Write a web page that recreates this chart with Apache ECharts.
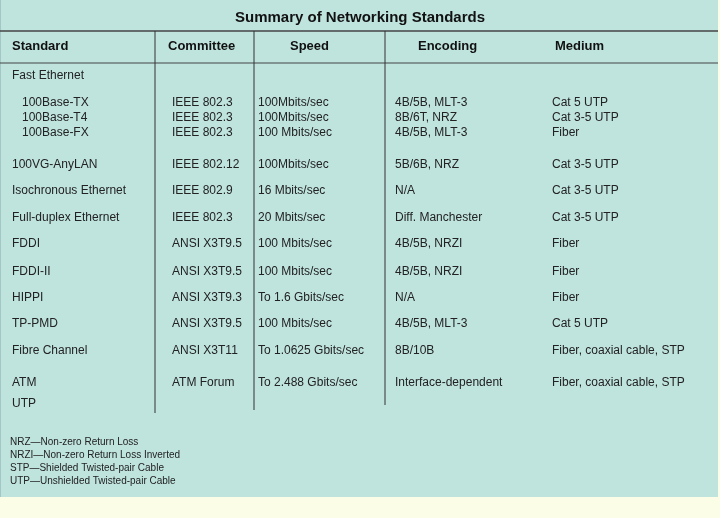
<!DOCTYPE html>
<html><head><meta charset="utf-8">
<script src="https://cdn.jsdelivr.net/npm/echarts@6/dist/echarts.min.js"></script>
<style>html,body{margin:0;padding:0;background:#fbfde6}#c{width:720px;height:518px}</style>
</head><body><div id="c"></div>
<script>
const title = "Summary of Networking Standards";
const headers = ["Standard","Committee","Speed","Encoding","Medium"];
const standards = ["Fast Ethernet","   100Base-TX","   100Base-T4","   100Base-FX","100VG-AnyLAN","Isochronous Ethernet","Full-duplex Ethernet","FDDI","FDDI-II","HIPPI","TP-PMD","Fibre Channel","ATM","UTP"];
const committees = ["","IEEE 802.3","IEEE 802.3","IEEE 802.3","IEEE 802.12","IEEE 802.9","IEEE 802.3","ANSI X3T9.5","ANSI X3T9.5","ANSI X3T9.3","ANSI X3T9.5","ANSI X3T11","ATM Forum",""];
const speeds = ["","100Mbits/sec","100Mbits/sec","100 Mbits/sec","100Mbits/sec","16 Mbits/sec","20 Mbits/sec","100 Mbits/sec","100 Mbits/sec","To 1.6 Gbits/sec","100 Mbits/sec","To 1.0625 Gbits/sec","To 2.488 Gbits/sec",""];
const encodings = ["","4B/5B, MLT-3","8B/6T, NRZ","4B/5B, MLT-3","5B/6B, NRZ","N/A","Diff. Manchester","4B/5B, NRZI","4B/5B, NRZI","N/A","4B/5B, MLT-3","8B/10B","Interface-dependent",""];
const media = ["","Cat 5 UTP","Cat 3-5 UTP","Fiber","Cat 3-5 UTP","Cat 3-5 UTP","Cat 3-5 UTP","Fiber","Fiber","Fiber","Cat 5 UTP","Fiber, coaxial cable, STP","Fiber, coaxial cable, STP",""];
const rowY = [76,103,118,133,165,191,218,244,272,298,324,351,383,404];
const footnotes = ["NRZ\u2014Non-zero Return Loss","NRZI\u2014Non-zero Return Loss Inverted","STP\u2014Shielded Twisted-pair Cable","UTP\u2014Unshielded Twisted-pair Cable"];

const font = '"Liberation Sans Narrow","Liberation Sans",sans-serif';
const colX = [12,172,258,395,552];
const headX = [12,168,290,418,555];
const cols = [standards,committees,speeds,encodings,media];
const els = [];
els.push({type:'rect',shape:{x:0,y:0,width:718,height:497},style:{fill:'#bfe4de'}});
els.push({type:'line',shape:{x1:0,y1:0,x2:0,y2:497},style:{stroke:'#8aa',lineWidth:1}});
els.push({type:'text',x:360,y:18,style:{text:title,font:'bold 15px '+font,fill:'#111',align:'center',verticalAlign:'middle'}});
els.push({type:'line',shape:{x1:0,y1:31,x2:718,y2:31},style:{stroke:'#444',lineWidth:1.5}});
els.push({type:'line',shape:{x1:0,y1:63,x2:718,y2:63},style:{stroke:'#444',lineWidth:1}});
[[155,413],[254,410],[385,405]].forEach(v=>els.push({type:'line',shape:{x1:v[0],y1:31,x2:v[0],y2:v[1]},style:{stroke:'#333',lineWidth:1}}));
headers.forEach((h,i)=>els.push({type:'text',x:headX[i],y:46,style:{text:h,font:'bold 13px '+font,fill:'#111',verticalAlign:'middle'}}));
cols.forEach((col,i)=>col.forEach((t,r)=>{ if(t) els.push({type:'text',x:colX[i],y:rowY[r],style:{text:t,font:'12px '+font,fill:'#222',verticalAlign:'middle'}}); }));
footnotes.forEach((t,i)=>els.push({type:'text',x:10,y:442+i*13,style:{text:t,font:'10px '+font,fill:'#222',verticalAlign:'middle'}}));
const chart = echarts.init(document.getElementById('c'));
chart.setOption({animation:false,backgroundColor:'#fbfde6',graphic:els});
</script></body></html>
